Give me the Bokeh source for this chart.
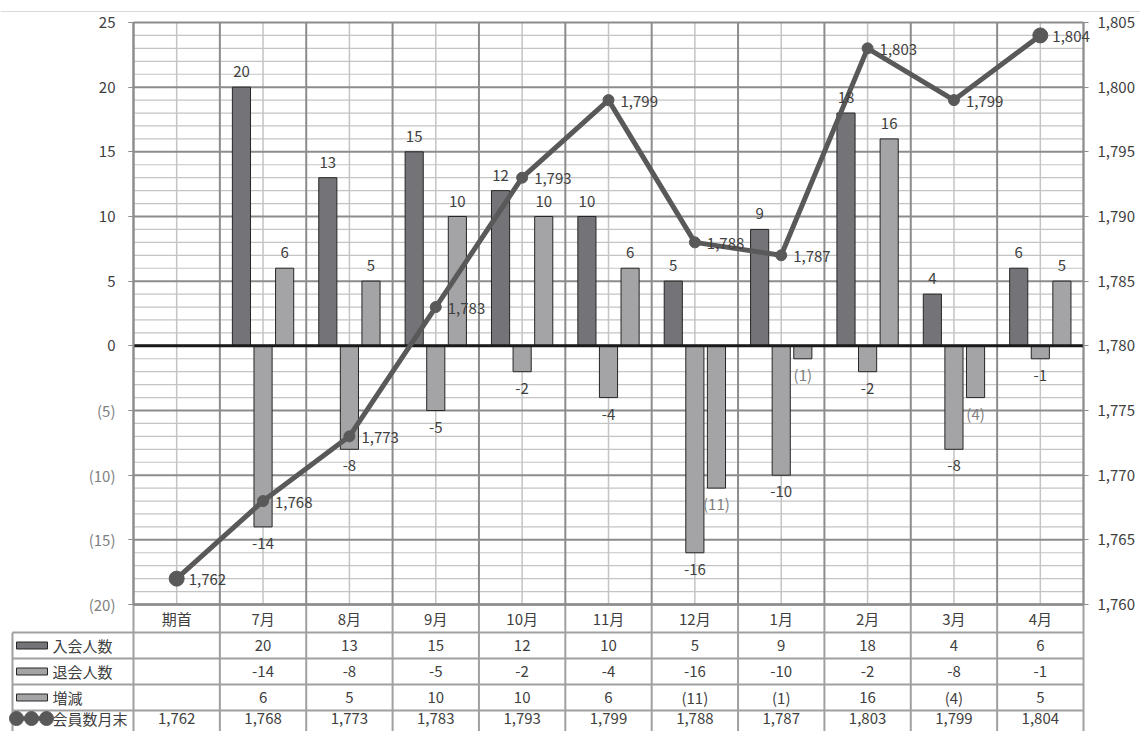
from bokeh.plotting import figure
from bokeh.models import (Range1d, LinearAxis, FixedTicker, ColumnDataSource,
                          LabelSet, NumeralTickFormatter)
from bokeh.embed import file_html
from bokeh.resources import INLINE
from bokeh.core.properties import value

# ---------------- data ----------------
categories = ["期首", "7月", "8月", "9月", "10月", "11月", "12月", "1月", "2月", "3月", "4月"]
joined = [None, 20, 13, 15, 12, 10, 5, 9, 18, 4, 6]
left_ = [None, -14, -8, -5, -2, -4, -16, -10, -2, -8, -1]
net = [None, 6, 5, 10, 10, 6, -11, -1, 16, -4, 5]
members = [1762, 1768, 1773, 1783, 1793, 1799, 1788, 1787, 1803, 1799, 1804]
series_names = ["入会人数", "退会人数", "増減", "会員数月末"]
left_ticks = [-20, -15, -10, -5, 0, 5, 10, 15, 20, 25]
right_ticks = [1760, 1765, 1770, 1775, 1780, 1785, 1790, 1795, 1800, 1805]
marker_sizes = [15, 11, 11, 11, 11, 11, 11, 11, 11, 11, 15]

# ---------------- style ----------------
FONT = "Noto Sans CJK JP"
DARK = "#404040"
GRAY = "#7f7f7f"
C_JOIN = "#747478"
C_LEFT = "#a4a4a7"
C_NET = "#a4a4a7"
C_LINE = "#595959"
BAR_EDGE = "#262626"
GRID_MAJOR = "#8c8c8c"
GRID_MINOR = "#c4c4c4"
TABLE_LINE = "#a0a0a0"
FS = "15px"

n = len(categories)
centers = [i + 0.5 for i in range(n)]
bounds = list(range(n + 1))
ymin, ymax = left_ticks[0], left_ticks[-1]
minor_ticks = [v for v in range(ymin, ymax + 1) if v % 5 != 0]
offset_r = right_ticks[0] - left_ticks[0]


def paren(v):
    return f"({-v})" if v < 0 else f"{v}"


def plain(v):
    return f"{v}"


def comma(v):
    return f"{v:,}"


# ---------------- layout (pixels of the page) ----------------
W, H = 1140, 731
FR_L, FR_R = 133, 1083      # chart plot area left/right
FR_T, FR_B = 22, 604        # chart plot area top/bottom
PX = (FR_R - FR_L) / n
SC = (FR_B - FR_T) / (ymax - ymin)


def X(px):
    return (px - FR_L) / PX


def Y(py):
    return ymax - (py - FR_T) / SC


p = figure(width=W, height=H,
           x_range=Range1d(X(0), X(W)), y_range=Range1d(Y(H), Y(0)),
           x_axis_location=None, y_axis_location=None,
           output_backend="svg", toolbar_location=None,
           min_border_left=0, min_border_right=0, min_border_top=0, min_border_bottom=0)
p.extra_y_ranges = {"right": Range1d(Y(H) + offset_r, Y(0) + offset_r)}
p.outline_line_color = None
p.background_fill_color = "white"
p.border_fill_color = "white"
p.xgrid.visible = False
p.ygrid.visible = False

# thin rule at top of the sheet
p.segment(x0=[X(0)], y0=[Y(11)], x1=[X(W)], y1=[Y(11)], line_color="#d9d9d9", line_width=1)

# ---------------- gridlines ----------------
p.segment(x0=[0] * len(minor_ticks), y0=minor_ticks, x1=[n] * len(minor_ticks), y1=minor_ticks,
          line_color=GRID_MINOR, line_width=1.2)
p.segment(x0=centers, y0=[ymin] * n, x1=centers, y1=[ymax] * n,
          line_color=GRID_MINOR, line_width=1.5)
p.segment(x0=[0] * len(left_ticks), y0=left_ticks, x1=[n] * len(left_ticks), y1=left_ticks,
          line_color=GRID_MAJOR, line_width=2)
p.segment(x0=bounds, y0=[ymin] * len(bounds), x1=bounds, y1=[ymax] * len(bounds),
          line_color=GRID_MAJOR, line_width=2)

# ---------------- axes ----------------
def style_axis(a, color, standoff):
    a.axis_line_color = GRID_MAJOR
    a.axis_line_width = 1.5
    a.major_tick_line_color = GRID_MAJOR
    a.major_tick_out = 5
    a.major_tick_in = 0
    a.minor_tick_line_color = None
    a.major_label_text_font = FONT
    a.major_label_text_font_size = FS
    a.major_label_text_color = color
    a.major_label_standoff = standoff


ax_pos = LinearAxis(fixed_location=0, bounds=(ymin, ymax), ticker=FixedTicker(ticks=left_ticks))
style_axis(ax_pos, DARK, 13)
ax_pos.major_label_overrides = {v: "" for v in left_ticks if v < 0}
p.add_layout(ax_pos, "left")

ax_neg = LinearAxis(fixed_location=0, bounds=(ymin, ymax), ticker=FixedTicker(ticks=left_ticks))
style_axis(ax_neg, GRAY, 13)
ax_neg.major_label_overrides = {v: (paren(v) if v < 0 else "") for v in left_ticks}
p.add_layout(ax_neg, "left")

rax = LinearAxis(y_range_name="right", fixed_location=n, bounds=(right_ticks[0], right_ticks[-1]),
                 ticker=FixedTicker(ticks=right_ticks), formatter=NumeralTickFormatter(format="0,0"))
style_axis(rax, DARK, 9)
p.add_layout(rax, "right")

# ---------------- bars ----------------
offs = [-0.25, 0.0, 0.25]
BW = 0.21
series = [(joined, C_JOIN, plain), (left_, C_LEFT, plain), (net, C_NET, paren)]
pos = dict(x=[], y=[], text=[], color=[])
neg = dict(x=[], y=[], text=[], color=[])
for (vals, col, fmt), off in zip(series, offs):
    idx = [i for i, v in enumerate(vals) if v is not None]
    src = ColumnDataSource(dict(x=[centers[i] + off for i in idx], top=[vals[i] for i in idx]))
    p.vbar(x="x", top="top", bottom=0, width=BW, source=src,
           fill_color=col, line_color=BAR_EDGE, line_width=1)
    for i in idx:
        v = vals[i]
        d = pos if v >= 0 else neg
        d["x"].append(centers[i] + off)
        d["y"].append(v)
        d["text"].append(fmt(v))
        d["color"].append(GRAY if (fmt is paren and v < 0) else DARK)

# zero (category) axis line
p.segment(x0=[0], y0=[0], x1=[n], y1=[0], line_color="#1a1a1a", line_width=3)

# ---------------- members line ----------------
msrc = ColumnDataSource(dict(x=centers, y=members, size=marker_sizes,
                             text=[comma(v) for v in members]))
p.line("x", "y", source=msrc, y_range_name="right", line_color=C_LINE, line_width=5)
p.scatter("x", "y", size="size", source=msrc, y_range_name="right",
          fill_color=C_LINE, line_color=C_LINE)

p.add_layout(LabelSet(x="x", y="y", text="text", source=ColumnDataSource(pos),
                      text_color="color", text_align="center", text_baseline="alphabetic",
                      y_offset=10, text_font=value(FONT), text_font_size=value(FS)))
p.add_layout(LabelSet(x="x", y="y", text="text", source=ColumnDataSource(neg),
                      text_color="color", text_align="center", text_baseline="alphabetic",
                      y_offset=-22, text_font=value(FONT), text_font_size=value(FS)))
p.add_layout(LabelSet(x="x", y="y", text="text", source=msrc, y_range_name="right",
                      text_color=DARK, text_align="left", text_baseline="middle",
                      x_offset=12, y_offset=-1, text_font=value(FONT), text_font_size=value(FS)))

# ---------------- data table ----------------
row_lines_px = [632, 658, 684, 710]
row_mid_px = [645, 671, 697, 718]
hdr_mid = Y((FR_B + row_lines_px[0]) / 2)
row_mid = [Y(t) for t in row_mid_px]
xl = X(12)
ybot = Y(H)

p.segment(x0=bounds, y0=[ymin] * len(bounds), x1=bounds, y1=[ybot] * len(bounds),
          line_color=TABLE_LINE, line_width=2)
p.segment(x0=[xl], y0=[Y(row_lines_px[0])], x1=[xl], y1=[ybot], line_color=TABLE_LINE, line_width=2)
p.segment(x0=[xl] * 4, y0=[Y(t) for t in row_lines_px], x1=[n] * 4, y1=[Y(t) for t in row_lines_px],
          line_color=TABLE_LINE, line_width=2)
p.segment(x0=[0], y0=[ymin], x1=[n], y1=[ymin], line_color=GRID_MAJOR, line_width=2.5)

p.text(x=centers, y=[hdr_mid] * n, text=categories, text_align="center", text_baseline="middle",
       text_font=value(FONT), text_font_size=value(FS), text_color=DARK)

row_texts = [
    ["" if v is None else plain(v) for v in joined],
    ["" if v is None else plain(v) for v in left_],
    ["" if v is None else paren(v) for v in net],
    [comma(v) for v in members],
]
for k, texts in enumerate(row_texts):
    p.text(x=centers, y=[row_mid[k]] * n, text=texts, text_align="center", text_baseline="middle",
           text_font=value(FONT), text_font_size=value(FS), text_color=DARK)

# series names + legend keys
p.text(x=[X(52)] * 4, y=row_mid, text=series_names, text_align="left", text_baseline="middle",
       text_font=value(FONT), text_font_size=value(FS), text_color=DARK)
p.rect(x=[X(31.5)] * 3, y=row_mid[:3], width=31 / PX, height=7 / SC,
       fill_color=[C_JOIN, C_LEFT, C_NET], line_color=BAR_EDGE, line_width=1)
p.line(x=[X(10), X(50)], y=[row_mid[3]] * 2, line_color=C_LINE, line_width=4)
p.scatter(x=[X(16), X(31), X(46)], y=[row_mid[3]] * 3, size=14,
          fill_color=C_LINE, line_color=C_LINE)

html = file_html(p, INLINE, title="会員数推移")
open("out.html", "w").write(html)
